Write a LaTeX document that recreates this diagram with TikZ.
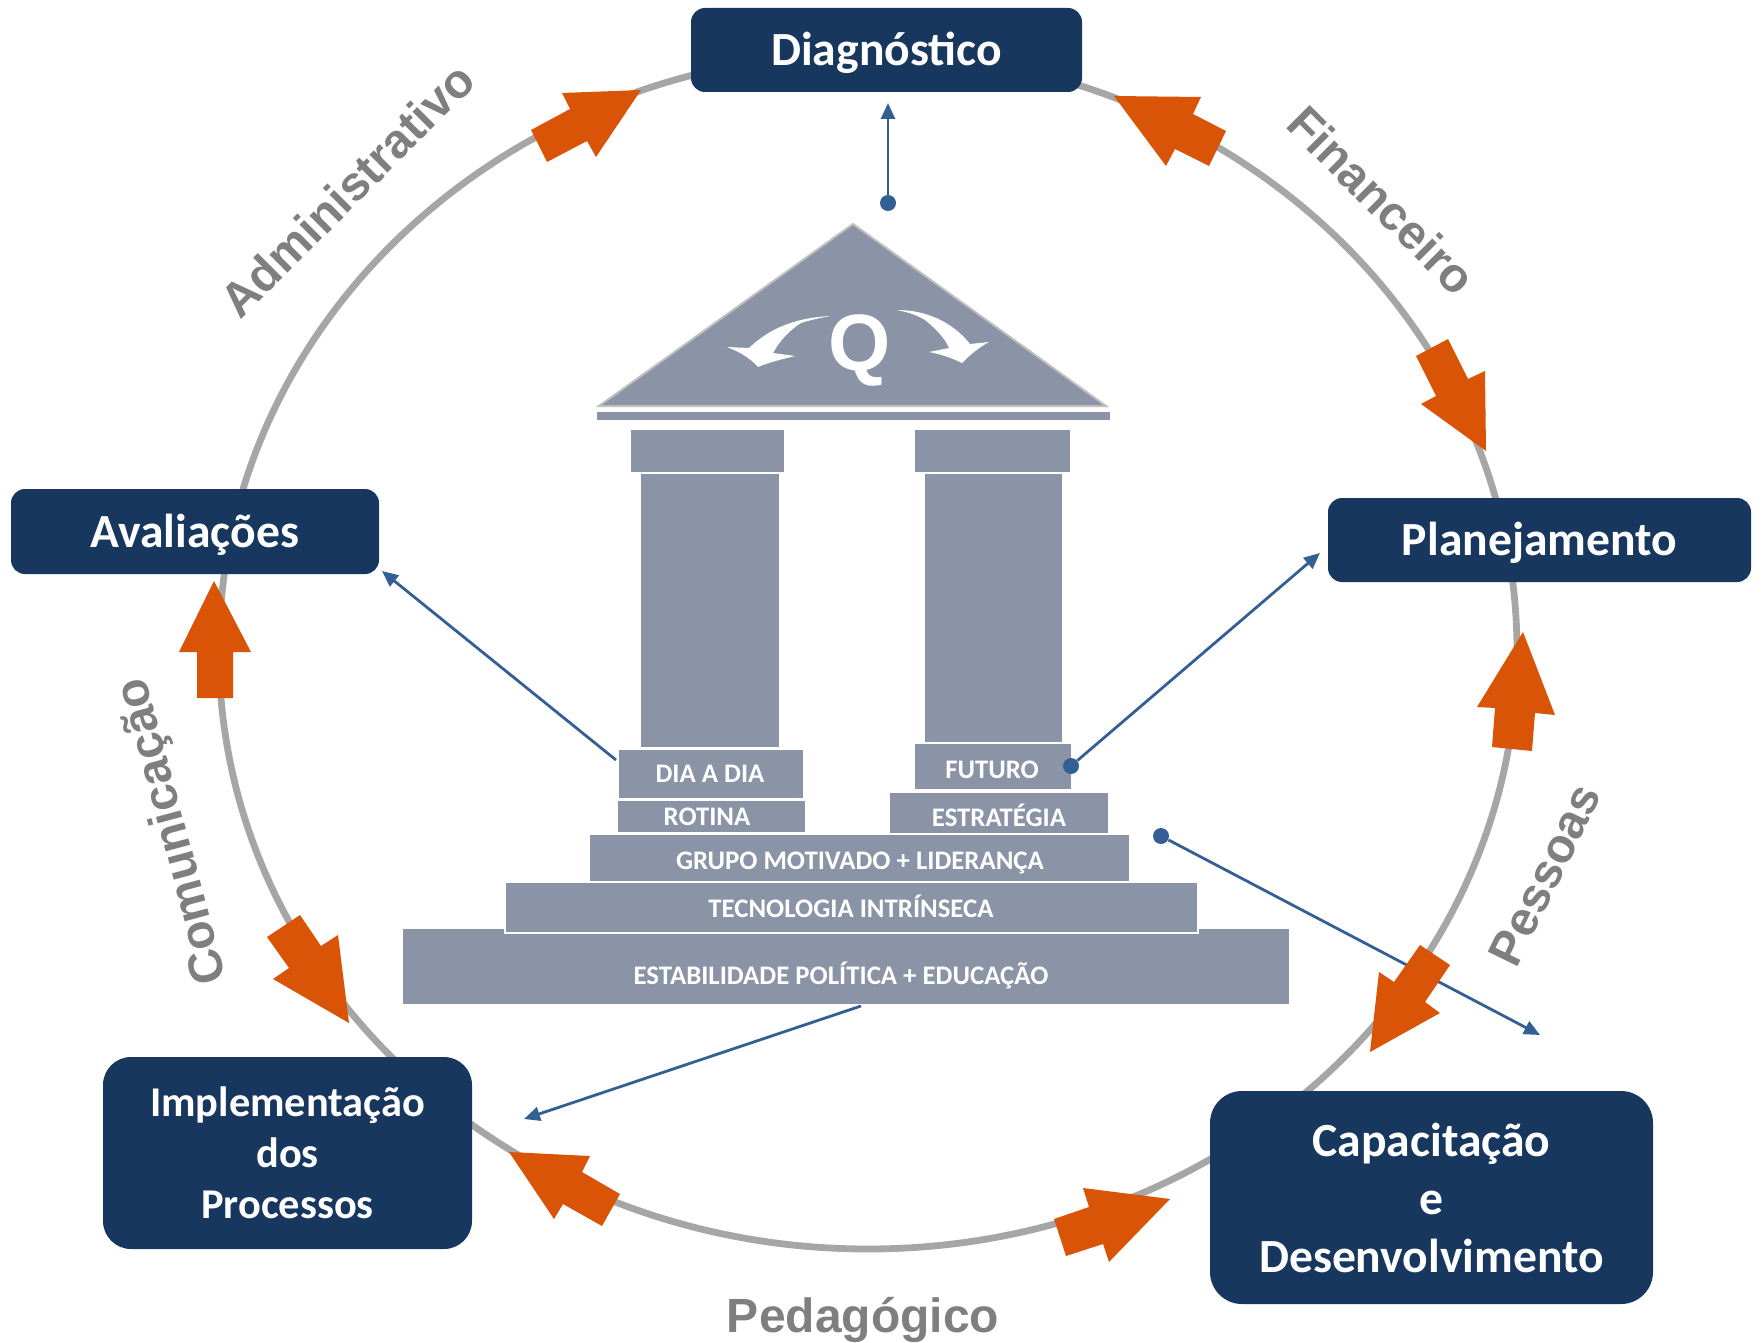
\documentclass[tikz,border=0pt]{standalone}
\usepackage{fontspec}
\setmainfont{Carlito}
\setsansfont{Liberation Sans}
\usetikzlibrary{arrows.meta}
\definecolor{navybox}{HTML}{17375E}
\definecolor{stonegray}{HTML}{8A94A6}
\definecolor{ringgray}{HTML}{A6A6A6}
\definecolor{labelgray}{HTML}{7F7F7F}
\definecolor{arroworange}{HTML}{D95407}
\definecolor{pointerblue}{HTML}{335F95}
\begin{document}
\begin{tikzpicture}[x=0.5pt,y=-0.5pt,>={Triangle[length=8pt,width=7pt]},
    phase/.style={fill=navybox,text=white,rounded corners=7pt,inner sep=0pt,align=center,
        font=\fontsize{23.8}{29}\selectfont\bfseries},
    oneline/.style={text depth=1pt},
    stone/.style={fill=stonegray},
    stoneline/.style={fill=stonegray,draw=white,line width=1pt},
    stonetext/.style={text=white,inner sep=0pt,font=\fontsize{13.4}{16}\selectfont\bfseries},
    area/.style={text=labelgray,inner sep=0pt,font=\fontsize{24}{28}\selectfont\sffamily\bfseries},
    turn/.style={fill=arroworange},
    pointer/.style={->,pointerblue,line width=1.4pt},
    bluedot/.style={circle,fill=pointerblue,inner sep=0pt,minimum size=8pt},
    swirl/.style={fill=white}]

    \useasboundingbox (0,0) rectangle (1762,1343);

    % ring
    \draw[ringgray,line width=3.4pt] (868,651) ellipse [x radius=649,y radius=598];

    % roof
    \filldraw[fill=stonegray,draw=black!25,line width=1pt] (853,224) -- (1106,406) -- (599,406) -- cycle;
    \fill[stone] (597,412) rectangle (1110,420);
    \node[text=white,inner sep=0pt,font=\fontsize{40}{46}\selectfont\sffamily\bfseries] (quality) at (860,350) {Q};
    \fill[swirl] (830,316) .. controls (795,318) and (770,328) .. (749,348) -- (727,347)
        .. controls (740,352) and (750,358) .. (758,367) .. controls (770,362) and (783,359) .. (795,356)
        -- (773,353) .. controls (780,340) and (790,330) .. (801,323) .. controls (810,320) and (820,318) .. (830,316) -- cycle;
    \fill[swirl] (897,310) .. controls (930,310) and (955,325) .. (970,344) -- (989,342)
        .. controls (978,348) and (970,355) .. (962,363) .. controls (952,358) and (940,354) .. (929,352)
        -- (949,348) .. controls (945,338) and (935,328) .. (925,320) .. controls (917,315) and (907,312) .. (897,310) -- cycle;

    % columns
    \fill[stone] (631,430) rectangle (784,472);
    \fill[stone] (915,430) rectangle (1070,472);
    \fill[stone] (641,474) rectangle (779,747);
    \fill[stone] (925,474) rectangle (1062,742);

    % steps
    \fill[stone] (403,929) rectangle (1289,1004);
    \fill[stone] (590,835) rectangle (1129,881);
    \filldraw[stoneline] (505,882) rectangle (1198,933);
    \fill[stone] (890,793) rectangle (1108,833);
    \filldraw[stoneline] (914,743) rectangle (1072,790);
    \filldraw[stoneline] (617,800) rectangle (806,833);
    \filldraw[stoneline] (618,749) rectangle (804,799);

    \node[stonetext] (diaadia) at (710,774) {DIA A DIA};
    \node[stonetext] (rotina) at (707,817) {ROTINA};
    \node[stonetext] (futuro) at (992,770) {FUTURO};
    \node[stonetext] (estrategia) at (999,815) {ESTRATÉGIA};
    \node[stonetext] (grupo) at (860,863) {GRUPO MOTIVADO + LIDERANÇA};
    \node[stonetext] (tecnologia) at (851,906) {TECNOLOGIA INTRÍNSECA};
    \node[stonetext] (estabilidade) at (841,975) {ESTABILIDADE POLÍTICA + EDUCAÇÃO};

    % pointers
    \node[bluedot] (dotdiag) at (888,203) {};
    \node[bluedot] (dotplan) at (1071,766) {};
    \node[bluedot] (dotcap) at (1161,836) {};
    \coordinate (tipdiag) at (888,103);
    \coordinate (tipplan) at (1320,553);
    \coordinate (tipcap) at (1540,1035);
    \coordinate (startaval) at (616,760);
    \coordinate (tipaval) at (382,571);
    \coordinate (startimpl) at (861,1006);
    \coordinate (tipimpl) at (524,1119);
    \draw[pointer] (dotdiag) -- (tipdiag);
    \draw[pointer] (dotplan) -- (tipplan);
    \draw[pointer] (dotcap) -- (tipcap);
    \draw[pointer] (startaval) -- (tipaval);
    \draw[pointer] (startimpl) -- (tipimpl);

    % orange arrows
    \fill[turn] (641,90) -- (562,93) -- (570,109) -- (531,130) -- (547,162) -- (587,141) -- (596,157) -- cycle;
    \fill[turn] (1114,96) -- (1201,97) -- (1193,114) -- (1226,131) -- (1209,166) -- (1175,149) -- (1166,166) -- cycle;
    \fill[turn] (1486,451) -- (1485,371) -- (1468,379) -- (1448,339) -- (1416,356) -- (1436,396) -- (1421,404) -- cycle;
    \fill[turn] (1523,632) -- (1477,707) -- (1495,708) -- (1492,747) -- (1532,751) -- (1535,713) -- (1555,715) -- cycle;
    \fill[turn] (1370,1052) -- (1440,1013) -- (1425,1002) -- (1450,965) -- (1420,945) -- (1394,982) -- (1379,972) -- cycle;
    \fill[turn] (1170,1199) -- (1083,1188) -- (1089,1207) -- (1054,1219) -- (1066,1256) -- (1103,1244) -- (1109,1262) -- cycle;
    \fill[turn] (509,1152) -- (590,1156) -- (582,1172) -- (620,1194) -- (602,1226) -- (563,1204) -- (554,1219) -- cycle;
    \fill[turn] (349,1023) -- (338,935) -- (321,946) -- (300,915) -- (267,937) -- (289,968) -- (273,979) -- cycle;
    \fill[turn] (214,581) -- (179,652) -- (197,652) -- (197,698) -- (233,698) -- (233,652) -- (251,652) -- cycle;

    % phases
    \node[phase,oneline,minimum width=195.5pt,minimum height=42pt] (diagnostico) at (886.5,50) {Diagnóstico};
    \node[phase,oneline,minimum width=211.5pt,minimum height=42pt] (planejamento) at (1539.5,540) {Planejamento};
    \node[phase,oneline,minimum width=184pt,minimum height=42.5pt] (avaliacoes) at (195,531.5) {Avaliações};
    \node[phase,minimum width=184.5pt,minimum height=96pt,rounded corners=14pt,
        font=\fontsize{21.2}{25.5}\selectfont\bfseries] (implementacao) at (287.5,1153) {Implementação\\dos\\Processos};
    \node[phase,minimum width=221.5pt,minimum height=106.5pt,rounded corners=16pt] (capacitacao) at (1431.5,1197.5) {Capacitação\\e\\Desenvolvimento};

    % areas
    \node[area,rotate=45] (administrativo) at (347,190) {Administrativo};
    \node[area,rotate=-45] (financeiro) at (1382,200) {Financeiro};
    \node[area,rotate=64] (pessoas) at (1545,875) {Pessoas};
    \node[area] (pedagogico) at (863,1320) {Pedagógico};
    \node[area,rotate=105] (comunicacao) at (174,831) {Comunicação};

\end{tikzpicture}
\end{document}
